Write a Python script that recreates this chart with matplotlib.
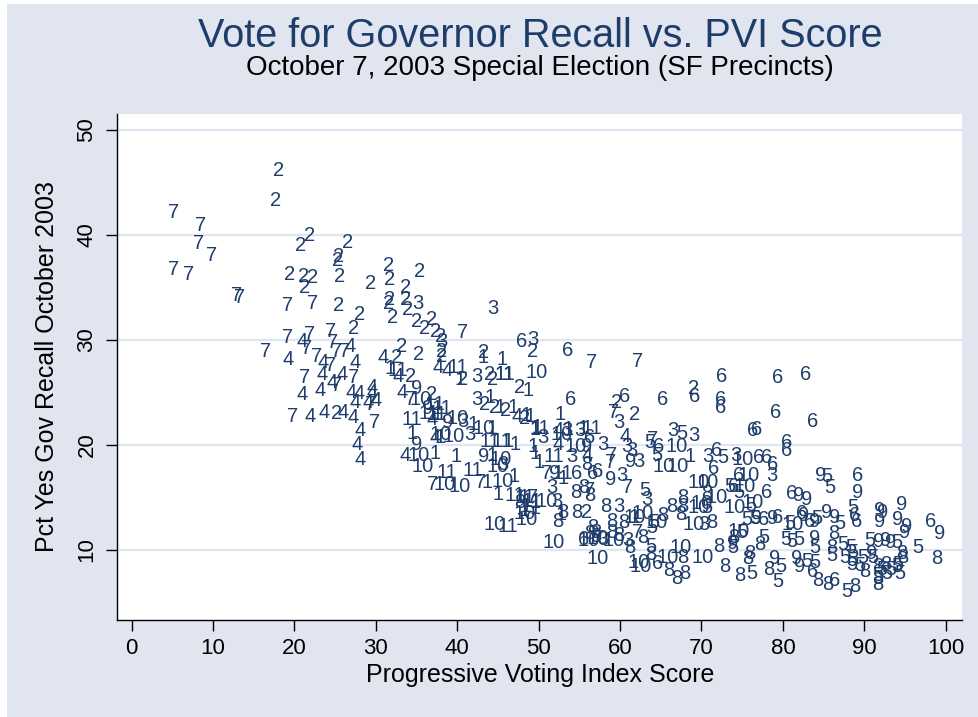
import matplotlib
matplotlib.use('Agg')
import matplotlib.pyplot as plt
from matplotlib.patches import Rectangle

# precinct values, one pair of lists per supervisor district
pvi_d1 = [40.3, 46.2, 48.7, 44.0, 45.3, 46.8, 48.9, 44.3, 49.8, 46.2, 47.1, 44.3, 49.5, 43.6, 48.5,
          37.9, 37.3, 37.5, 34.5, 41.9, 31.7, 43.2, 45.5, 45.3, 52.6, 48.5, 49.6, 53.6, 55.5, 49.3,
          68.6, 50.1, 48.2, 49.6, 48.2, 49.6, 52.7, 61.7, 39.8, 45.0, 47.0, 53.0]
recall_d1 = [26.2, 26.7, 25.2, 24.5, 23.6, 23.6, 22.7, 21.6, 21.7, 20.3, 20.0, 19.0, 19.2, 16.4, 14.1,
             20.7, 19.2, 22.9, 21.1, 21.9, 27.3, 28.3, 28.1, 26.7, 22.9, 22.8, 21.5, 21.5, 21.6, 19.8,
             18.9, 18.3, 15.0, 14.5, 13.8, 13.9, 13.4, 13.1, 18.9, 15.3, 17.0, 16.8]

pvi_d2 = [18.1, 17.7, 20.8, 21.8, 26.5, 25.3, 25.4, 19.4, 21.1, 22.2, 21.3, 25.5, 25.4, 31.6, 35.4,
          31.7, 29.3, 33.6, 31.7, 31.5, 33.6, 33.9, 28.0, 32.1, 27.2, 35.0, 36.0, 36.9, 37.3, 37.9,
          49.2, 33.2, 35.2, 32.6, 38.1, 43.2, 44.0, 34.2, 36.9, 25.2, 40.6, 44.3, 47.7, 43.4, 44.6,
          45.9, 48.3, 59.6, 61.8, 69.0, 55.9, 38.1]
recall_d2 = [46.1, 43.3, 39.0, 39.9, 39.3, 37.6, 37.9, 36.2, 36.0, 35.9, 35.0, 36.0, 33.3, 37.1, 36.5,
             35.7, 35.4, 35.0, 33.8, 33.5, 33.8, 32.9, 32.4, 32.1, 31.1, 31.7, 31.1, 31.9, 30.8, 30.3,
             28.9, 29.4, 28.6, 28.3, 28.4, 28.8, 26.7, 26.5, 24.8, 23.0, 26.2, 26.2, 25.5, 23.8, 23.6,
             23.3, 22.5, 24.0, 22.9, 25.4, 13.6, 28.9]

pvi_d3 = [35.2, 44.4, 49.3, 42.4, 42.4, 40.7, 45.6, 50.5, 59.8, 66.5, 69.0, 57.9, 60.8, 61.5, 70.8,
          74.2, 54.1, 62.3, 60.2, 51.6, 63.3, 59.8, 78.7, 57.9, 60.9, 70.3, 41.5, 53.4, 55.0, 52.2,
          38.1]
recall_d3 = [33.5, 33.0, 30.0, 26.5, 24.3, 22.2, 18.1, 20.7, 22.1, 21.4, 20.9, 20.0, 19.8, 19.5, 18.9,
             19.0, 18.9, 18.4, 17.1, 15.9, 14.8, 14.1, 17.1, 11.0, 10.9, 12.4, 21.0, 21.4, 21.4, 14.6,
             29.8]

pvi_d4 = [19.2, 20.9, 23.5, 23.4, 20.9, 23.1, 24.6, 21.9, 23.6, 26.0, 25.9, 29.5, 27.0, 28.0, 29.5,
          27.5, 27.2, 28.1, 27.7, 28.1, 32.7, 33.2, 36.9, 37.3, 33.6, 26.8, 30.9, 27.4, 37.6, 38.8,
          47.4, 52.4, 60.6, 52.4, 55.9, 29.0, 30.0]
recall_d4 = [28.1, 29.8, 27.8, 26.7, 24.8, 25.2, 25.9, 22.7, 23.1, 23.1, 26.7, 25.5, 25.0, 24.9, 25.0,
             24.0, 22.6, 21.4, 20.0, 18.6, 26.5, 25.0, 22.4, 20.7, 19.0, 29.4, 28.3, 27.8, 27.4, 27.1,
             22.7, 21.4, 20.8, 20.0, 19.0, 24.0, 24.2]

pvi_d5 = [67.6, 63.7, 64.5, 72.6, 63.0, 64.2, 63.9, 63.8, 70.6, 73.5, 75.6, 76.6, 85.4, 85.8, 88.6,
          74.9, 77.6, 80.3, 81.1, 82.0, 83.9, 87.4, 88.3, 88.6, 89.8, 87.6, 88.5, 88.5, 86.0, 94.0,
          96.6, 94.1, 94.0, 94.4, 92.2, 92.8, 93.3, 91.7, 79.7, 82.9, 83.9, 76.2, 79.4, 87.9, 73.9,
          90.7, 74.6, 76.0, 84.2, 87.0, 80.8, 91.0, 89.5]
recall_d5 = [21.1, 20.2, 19.0, 18.8, 15.7, 12.6, 12.1, 10.3, 14.0, 16.0, 12.9, 13.0, 17.0, 15.9, 14.0,
             11.7, 11.2, 11.0, 10.8, 11.0, 10.2, 10.5, 10.2, 9.8, 9.3, 9.3, 9.0, 8.6, 9.5, 10.7,
             10.2, 8.6, 8.4, 7.8, 8.1, 7.8, 8.1, 7.6, 8.4, 8.9, 8.8, 7.8, 7.0, 6.0, 10.2,
             10.9, 15.5, 14.2, 13.0, 12.5, 12.5, 9.3, 8.5]

pvi_d6 = [47.9, 53.6, 53.9, 60.6, 65.2, 69.2, 72.5, 79.3, 82.8, 72.4, 72.3, 79.1, 83.6, 76.3, 76.8,
          80.5, 80.5, 64.7, 56.3, 71.8, 77.0, 78.0, 78.7, 71.5, 74.5, 89.2, 73.9, 78.0, 81.1, 77.6,
          79.4, 82.3, 83.3, 88.8, 89.1, 98.1, 83.7, 86.4, 54.7, 56.6, 57.3, 64.6, 55.5]
recall_d6 = [29.8, 29.0, 24.3, 24.6, 24.3, 24.6, 26.5, 26.4, 26.7, 24.3, 23.6, 23.1, 22.2, 21.4, 21.5,
             20.2, 19.5, 19.8, 20.7, 19.5, 18.8, 18.8, 18.1, 17.8, 17.1, 17.1, 16.0, 15.5, 15.4, 12.9,
             13.1, 13.5, 12.7, 13.3, 12.7, 12.7, 7.9, 7.1, 17.3, 17.3, 17.5, 8.7, 11.0]

pvi_d7 = [5.1, 8.5, 8.2, 9.8, 5.2, 7.0, 12.9, 13.3, 16.4, 19.2, 22.2, 19.1, 21.9, 24.4, 24.7,
          25.2, 26.2, 21.5, 22.7, 24.4, 21.3, 25.2, 19.8, 27.2, 29.9, 29.3, 34.2, 37.0, 40.7, 42.8,
          56.5, 62.2, 59.2, 59.0, 58.8, 51.0, 60.9, 56.3, 49.2, 62.2, 64.0]
recall_d7 = [42.1, 40.9, 39.2, 38.0, 36.7, 36.2, 34.2, 34.0, 28.9, 33.3, 33.5, 30.2, 30.5, 30.8, 29.7,
             28.9, 28.9, 29.2, 28.4, 27.6, 26.4, 25.7, 22.7, 26.4, 22.1, 23.8, 24.3, 16.2, 30.7, 16.4,
             27.8, 27.9, 23.1, 19.0, 18.3, 17.3, 15.9, 15.7, 15.0, 11.7, 20.5]

pvi_d8 = [55.9, 54.5, 55.5, 56.3, 67.7, 53.0, 54.7, 58.2, 59.0, 60.4, 65.2, 66.4, 67.7, 67.4, 71.3,
          52.4, 62.8, 56.6, 59.0, 56.3, 57.0, 57.0, 59.8, 61.2, 63.8, 67.7, 67.0, 68.0, 70.7, 72.9,
          74.7, 78.2, 72.1, 75.9, 75.7, 86.2, 94.6, 94.7, 91.6, 91.7, 91.7, 90.1, 84.3, 85.5, 88.8,
          98.9, 47.7, 74.0, 77.2, 66.0, 86.0, 92.6]
recall_d8 = [18.1, 15.5, 15.9, 15.2, 15.0, 13.6, 13.6, 14.1, 12.7, 12.6, 13.3, 14.1, 14.1, 13.4, 12.6,
             12.7, 11.2, 12.1, 11.7, 11.6, 11.7, 11.3, 11.4, 10.2, 9.6, 9.3, 7.3, 7.8, 15.4, 8.4,
             7.6, 8.1, 10.3, 9.7, 9.2, 11.6, 9.7, 9.3, 8.4, 7.3, 6.7, 7.9, 7.1, 6.7, 6.5,
             9.2, 14.5, 11.2, 10.5, 8.0, 10.2, 8.6]

pvi_d9 = [35.0, 36.4, 35.0, 43.2, 55.9, 61.3, 58.8, 84.6, 89.2, 81.9, 82.9, 78.7, 76.8, 82.6, 83.9,
          85.4, 86.4, 91.9, 92.3, 91.9, 94.6, 94.1, 95.2, 95.0, 99.3, 83.9, 91.7, 92.6, 93.2, 90.9,
          79.0, 81.7, 82.1, 73.8, 52.0, 38.8]
recall_d9 = [25.4, 23.5, 20.0, 18.9, 19.8, 18.4, 16.7, 17.1, 15.5, 15.2, 14.8, 13.0, 13.0, 13.3, 12.7,
             13.6, 13.1, 13.8, 13.6, 12.7, 14.3, 12.9, 12.2, 11.7, 11.6, 11.1, 10.8, 10.9, 10.7, 9.7,
             9.2, 9.2, 8.4, 10.6, 17.3, 22.1]

pvi_d10 = [49.8, 35.5, 39.5, 35.2, 35.7, 38.5, 40.3, 44.9, 45.6, 48.3, 44.6, 48.5, 43.2, 45.3, 54.5,
           65.3, 67.1, 67.0, 69.6, 75.1, 75.8, 75.3, 70.7, 71.9, 74.1, 76.3, 81.2, 51.0, 61.8, 62.8,
           64.5, 69.6, 70.0, 69.0, 51.8, 56.1, 57.3, 59.2, 57.2, 62.5, 62.3, 65.8, 67.4, 70.1, 74.6,
           40.0, 38.0, 52.8]
recall_d10 = [26.9, 24.3, 20.8, 19.0, 17.9, 16.2, 16.0, 17.9, 16.5, 13.5, 12.4, 12.9, 21.6, 18.6, 19.8,
              17.9, 17.9, 19.8, 16.4, 18.6, 17.1, 16.0, 16.4, 15.0, 14.0, 14.5, 12.4, 14.6, 13.1, 13.5,
              12.6, 14.0, 14.4, 12.4, 10.7, 10.9, 11.1, 10.9, 9.2, 8.4, 8.8, 9.3, 10.2, 9.3, 11.8,
              22.5, 21.0, 21.0]

pvi_d11 = [32.7, 40.1, 45.9, 34.4, 38.1, 37.2, 36.5, 41.9, 38.7, 47.1, 48.3, 49.2, 44.0, 45.5, 46.2,
           53.0, 56.5, 51.9, 50.1, 37.5]
recall_d11 = [27.1, 27.4, 26.7, 22.4, 23.5, 23.8, 23.0, 17.6, 17.4, 15.2, 15.0, 14.6, 20.3, 20.3, 12.2,
              17.3, 21.6, 18.9, 21.6, 22.9]

districts = {1: (pvi_d1, recall_d1), 2: (pvi_d2, recall_d2), 3: (pvi_d3, recall_d3),
             4: (pvi_d4, recall_d4), 5: (pvi_d5, recall_d5), 6: (pvi_d6, recall_d6),
             7: (pvi_d7, recall_d7), 8: (pvi_d8, recall_d8), 9: (pvi_d9, recall_d9),
             10: (pvi_d10, recall_d10), 11: (pvi_d11, recall_d11)}

xticks = [0, 10, 20, 30, 40, 50, 60, 70, 80, 90, 100]
yticks = [10, 20, 30, 40, 50]

navy = '#1f3d6b'
bluegray = '#e0e5ef'

plt.rcParams['font.family'] = ['Liberation Sans', 'DejaVu Sans']

fig = plt.figure(figsize=(9.79, 7.17), dpi=100)
fig.patch.set_facecolor('white')
fig.patches.append(Rectangle((7/979, 0), 1 - 7/979, 1 - 4/717, transform=fig.transFigure,
                             facecolor=bluegray, edgecolor='none', zorder=-10))

ax = fig.add_axes([117/979, 97/717, 845/979, 506/717])
ax.set_facecolor('white')

for d, (xs, ys) in districts.items():
    for x, y in zip(xs, ys):
        ax.text(x, y, str(d), ha='center', va='center', fontsize=14.5, color=navy)

ax.set_xlim(-1.8, 102.0)
ax.set_ylim(3.33, 51.5)
ax.set_xticks(xticks)
ax.set_yticks(yticks)
ax.set_yticklabels([str(t) for t in yticks], rotation=90, va='center')
ax.tick_params(axis='both', length=8, width=1, labelsize=16, color='black')
ax.tick_params(axis='x', pad=5)
ax.tick_params(axis='y', pad=6)
ax.grid(axis='y', color=bluegray, linewidth=1.6)
ax.set_axisbelow(True)
for s in ['top', 'right']:
    ax.spines[s].set_visible(False)
for s in ['left', 'bottom']:
    ax.spines[s].set_linewidth(1)
    ax.spines[s].set_color('black')

fig.text(540/979, 1 - 36/717, 'Vote for Governor Recall vs. PVI Score', ha='center', va='center',
         fontsize=28.5, color=navy)
fig.text(540/979, 1 - 68/717, 'October 7, 2003 Special Election (SF Precincts)', ha='center',
         va='center', fontsize=20, color='black')
fig.text(47/979, 1 - 367/717, 'Pct Yes Gov Recall October 2003', rotation=90, ha='center',
         va='center', fontsize=18)
fig.text(540/979, 1 - 675/717, 'Progressive Voting Index Score', ha='center', va='center',
         fontsize=18)

fig.savefig('out.png', dpi=100, facecolor=fig.get_facecolor())
